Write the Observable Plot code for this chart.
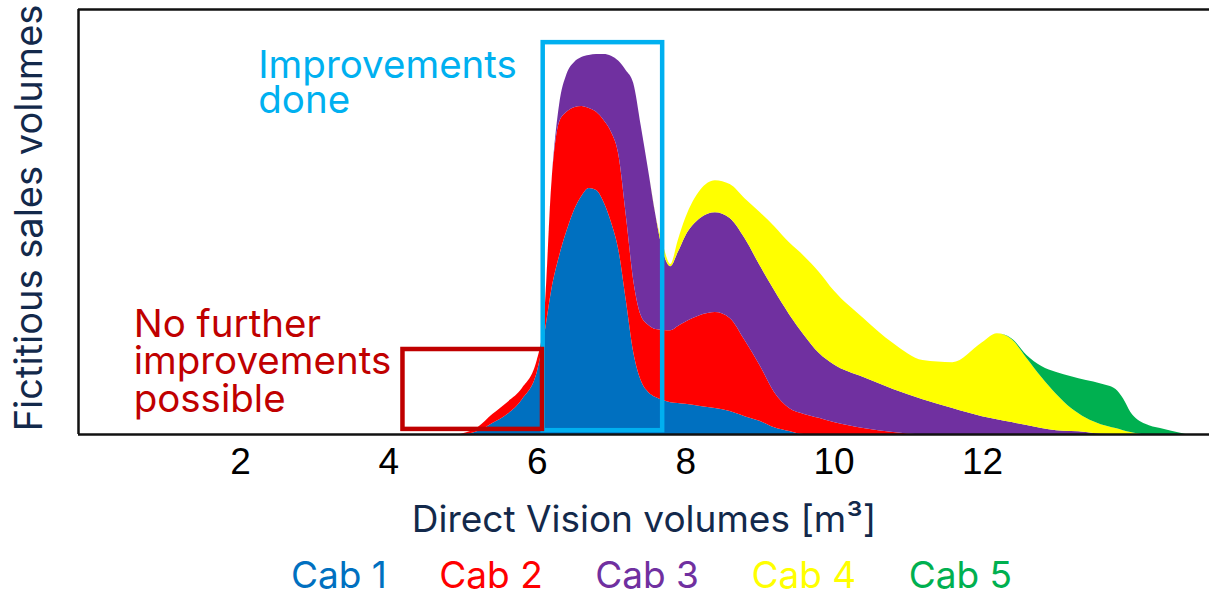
<!DOCTYPE html>
<html>
<head>
<meta charset="utf-8">
<script src="https://cdn.jsdelivr.net/npm/d3@7"></script>
<script src="https://cdn.jsdelivr.net/npm/@observablehq/plot@0.6"></script>
<style>
  html, body { margin: 0; padding: 0; background: #fff; }
  #wrap { position: relative; width: 1209px; height: 593px; overflow: hidden; }
  #legend { position: absolute; left: 0; top: 557px; width: 1209px; height: 35px;
    display: flex; justify-content: center; gap: 52.5px; padding-left: 94px; box-sizing: border-box;
    font-family: Inter, "Noto Sans", sans-serif; font-size: 37px; line-height: 35px; }
  #legend span { display: inline-block; height: 35px; line-height: 35px; }
</style>
</head>
<body>
<div id="wrap"><div id="chart"></div><div id="legend"></div></div>
<script>
// x sample positions (Direct Vision volume, m³)
const xs = [4.95, 5.0, 5.2, 5.4, 5.6, 5.8, 6.0, 6.1, 6.2, 6.3,
            6.4, 6.5, 6.6, 6.7, 6.8, 6.9, 7.0, 7.1, 7.2, 7.3,
            7.4, 7.5, 7.6, 7.7, 7.8, 7.9, 8.0, 8.2, 8.4, 8.6,
            8.8, 9.0, 9.2, 9.4, 9.6, 9.8, 10.0, 10.4, 10.8, 11.2,
            11.6, 12.0, 12.2, 12.4, 12.6, 12.8, 13.0, 13.2, 13.4, 13.6,
            13.8, 13.9, 14.0, 14.2, 14.4, 14.7, 14.75];

// stacked layer thickness per cab (fictitious sales volumes)
const cab1 = [0, 0, 0.7, 2.6, 4.7, 8.2, 14.6, 23.3, 34.4, 41.9,
              47.8, 52.7, 56.0, 57.9, 57.4, 54.6, 49.9, 43.3, 31.5, 19.3,
              12.7, 9.9, 8.7, 8.0, 7.5, 7.3, 7.1, 6.6, 6.1, 5.4,
              4.2, 3.1, 1.6, 0.7, 0, 0, 0, 0, 0, 0,
              0, 0, 0, 0, 0, 0, 0, 0, 0, 0,
              0, 0, 0, 0, 0, 0, 0];
const cab2 = [0, 0.2, 0.9, 2.1, 2.8, 2.6, 2.8, 4.7, 25.4, 31.5,
              28.0, 24.2, 21.2, 18.8, 18.4, 19.3, 21.2, 22.4, 20.0, 16.9,
              15.3, 15.8, 16.0, 16.5, 16.9, 18.1, 19.3, 21.4, 22.6, 21.9,
              17.9, 13.2, 8.2, 5.4, 4.7, 3.8, 2.8, 1.4, 0.5, 0,
              0, 0, 0, 0, 0, 0, 0, 0, 0, 0,
              0, 0, 0, 0, 0, 0, 0];
const cab3 = [0, 0, 0, 0, 0, 0, 0, 0, 0, 4.0,
              8.9, 10.6, 11.5, 12.5, 13.6, 15.5, 17.9, 22.1, 34.1, 46.4,
              44.7, 36.5, 26.8, 18.4, 15.1, 17.4, 20.2, 22.8, 23.5, 23.5,
              24.0, 23.5, 24.0, 22.1, 18.6, 15.3, 13.6, 12.0, 10.1, 8.2,
              6.1, 4.2, 3.5, 2.8, 2.1, 1.4, 0.9, 0.7, 0.5, 0.1,
              0, 0, 0, 0, 0, 0, 0];
const cab4 = [0, 0, 0, 0, 0, 0, 0, 0, 0, 0,
              0, 0, 0, 0, 0, 0, 0, 0, 0, 0,
              0, 0, 0, 1.6, 0.5, 2.8, 4.2, 6.6, 7.5, 8.0,
              9.4, 12.5, 15.1, 16.9, 18.6, 19.1, 17.4, 13.9, 10.8, 9.2,
              10.8, 17.4, 20.2, 19.5, 15.8, 12.0, 8.5, 5.4, 3.3, 2.2,
              1.4, 0.9, 0.5, 0, 0, 0, 0];
const cab5 = [0, 0, 0, 0, 0, 0, 0, 0, 0, 0,
              0, 0, 0, 0, 0, 0, 0, 0, 0, 0,
              0, 0, 0, 0, 0, 0, 0, 0, 0, 0,
              0, 0, 0, 0, 0, 0, 0, 0, 0, 0,
              0, 0, 0, 0.2, 0.7, 2.6, 5.2, 7.5, 8.9, 9.6,
              9.2, 7.5, 4.7, 2.4, 1.4, 0.2, 0];

const seriesNames = ["Cab 1", "Cab 2", "Cab 3", "Cab 4", "Cab 5"];
const seriesColors = ["#0070C0", "#FF0000", "#7030A0", "#FFFF00", "#00B050"];
const xTicks = [2, 4, 6, 8, 10, 12];
const xDomain = [-0.183, 15.06];
const yDomain = [0, 100];

// highlighted ranges
const improvedBox = {x1: 6.08, x2: 7.69, y1: 0.9, y2: 92.2};
const noFurtherBox = {x1: 4.19, x2: 6.07, y1: 1.2, y2: 20.0};
const improvedText = {x: 2.24, y: 89.6, text: "Improvements\ndone"};
const noFurtherText = {x: 0.56, y: 29.2, text: "No further\nimprovements\npossible"};

const xLabel = "Direct Vision volumes [m³]";
const yLabel = "Fictitious sales volumes";

const allSeries = [cab1, cab2, cab3, cab4, cab5];
const table = [];
allSeries.forEach((vals, k) => {
  xs.forEach((x, i) => table.push({x, v: vals[i], series: seriesNames[k]}));
});

const navy = "#13294B";
const sans = "Inter, 'Noto Sans', sans-serif";

const chart = Plot.plot({
  width: 1209,
  height: 556,
  marginTop: 9,
  marginLeft: 78,
  marginRight: 0,
  marginBottom: 122,
  x: {domain: xDomain, axis: null},
  y: {domain: yDomain, axis: null},
  color: {domain: seriesNames, range: seriesColors},
  style: {background: "white"},
  marks: [
    Plot.areaY(table, {x: "x", y: "v", z: "series", fill: "series", curve: "monotone-x"}),
    Plot.ruleY([yDomain[1]], {stroke: "#111", strokeWidth: 2.5}),
    Plot.ruleY([yDomain[0]], {stroke: "#111", strokeWidth: 2.5}),
    Plot.ruleX([xDomain[0]], {stroke: "#111", strokeWidth: 2.5}),
    Plot.rect([improvedBox], {x1: "x1", x2: "x2", y1: "y1", y2: "y2", fill: "none", stroke: "#00B0F0", strokeWidth: 4.5}),
    Plot.rect([noFurtherBox], {x1: "x1", x2: "x2", y1: "y1", y2: "y2", fill: "none", stroke: "#C00000", strokeWidth: 4.5}),
    Plot.text([improvedText], {x: "x", y: "y", text: "text", textAnchor: "start", lineAnchor: "top", lineHeight: 0.9,
      fill: "#00B0F0", fontSize: 38.5, fontFamily: sans}),
    Plot.text([noFurtherText], {x: "x", y: "y", text: "text", textAnchor: "start", lineAnchor: "top", lineHeight: 0.97,
      fill: "#C00000", fontSize: 38.5, fontFamily: sans}),
    Plot.axisX(xTicks, {tickSize: 0, tickPadding: 13, fontSize: 37, fontFamily: "'Liberation Sans', Arial, sans-serif",
      fill: "black", label: null}),
    Plot.text([xLabel], {frameAnchor: "bottom", dy: 97, fill: navy, fontSize: 37, fontFamily: sans}),
    Plot.text([yLabel], {frameAnchor: "left", textAnchor: "middle", rotate: -90, dx: -49, dy: -4,
      fill: navy, fontSize: 38, fontFamily: sans})
  ]
});
document.getElementById("chart").appendChild(chart);

const legend = document.getElementById("legend");
seriesNames.forEach((name, k) => {
  const s = document.createElement("span");
  s.textContent = name;
  s.style.color = seriesColors[k];
  legend.appendChild(s);
});
</script>
</body>
</html>
